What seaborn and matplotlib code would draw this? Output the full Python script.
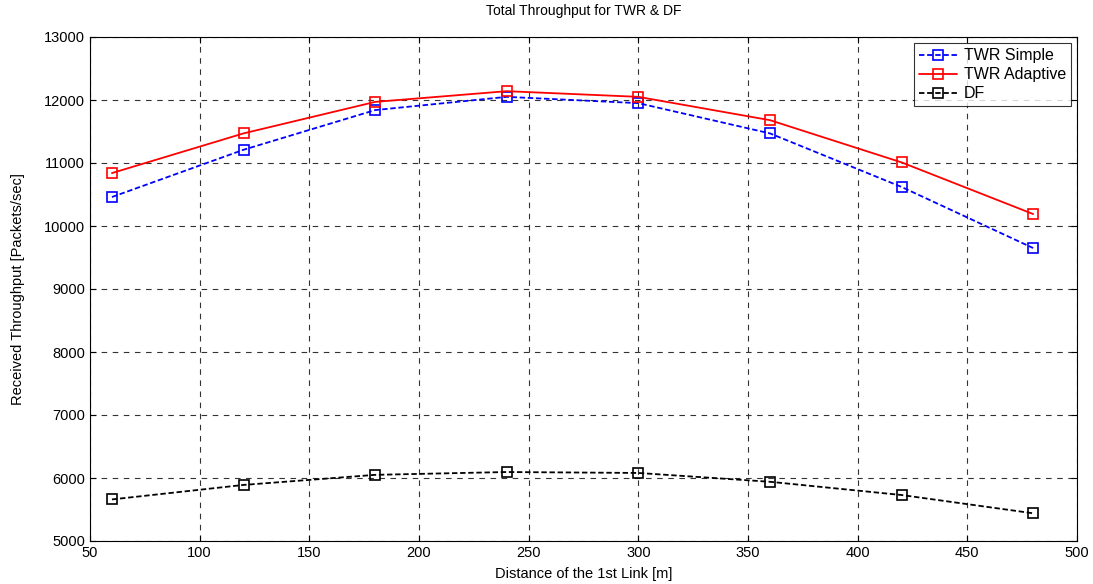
import matplotlib
matplotlib.use("Agg")
import matplotlib.pyplot as plt
import seaborn as sns
import pandas as pd

distance = [60, 120, 180, 240, 300, 360, 420, 480]
twr_simple = [10460, 11210, 11840, 12050, 11950, 11470, 10620, 9650]
twr_adaptive = [10840, 11470, 11970, 12140, 12050, 11680, 11010, 10190]
df_values = [5660, 5890, 6050, 6095, 6080, 5940, 5730, 5440]

series_names = ["TWR Simple", "TWR Adaptive", "DF"]
series_colors = ["#0000ff", "#ff0000", "#000000"]
series_dashes = [(3, 1.5), "", (3, 1.5)]

frames = []
for name, vals in zip(series_names, [twr_simple, twr_adaptive, df_values]):
    frames.append(pd.DataFrame({"Distance": distance, "Throughput": vals, "Series": name}))
data = pd.concat(frames, ignore_index=True)

sns.set_style("white")
plt.rcParams["font.family"] = ["Liberation Sans", "DejaVu Sans"]
plt.rcParams["font.size"] = 10
plt.rcParams["text.color"] = "black"
plt.rcParams["axes.labelcolor"] = "black"
plt.rcParams["xtick.color"] = "black"
plt.rcParams["ytick.color"] = "black"

fig = plt.figure(figsize=(10.93, 5.84), dpi=100)
ax = fig.add_axes([90 / 1093, 1 - 541 / 584, (1077 - 90) / 1093, (541 - 37) / 584])

sns.lineplot(
    data=data, x="Distance", y="Throughput", hue="Series", style="Series",
    hue_order=series_names, style_order=series_names,
    palette=dict(zip(series_names, series_colors)),
    dashes=dict(zip(series_names, series_dashes)),
    markers=dict(zip(series_names, ["s", "s", "s"])),
    markersize=7.5, markerfacecolor="none", markeredgewidth=1.2,
    linewidth=1.3, ax=ax,
)
for line, col in zip(ax.get_lines(), series_colors):
    line.set_markeredgecolor(col)

ax.set_xlim(50, 500)
ax.set_ylim(5000, 13000)
ax.set_xticks(range(50, 501, 50))
ax.set_yticks(range(5000, 13001, 1000))
ax.grid(True, color="#333333", linestyle=(0, (5, 5)), linewidth=0.8)
ax.tick_params(direction="in", length=4, labelsize=10.5, top=True, right=True,
               bottom=True, left=True, colors="black")
for sp in ax.spines.values():
    sp.set_color("black")
    sp.set_linewidth(0.8)

ax.set_title("Total Throughput for TWR & DF", fontsize=10, pad=16, color="black")
ax.set_xlabel("Distance of the 1st Link [m]", fontsize=10.5, labelpad=5)
ax.set_ylabel("Received Throughput [Packets/sec]", fontsize=10.5, labelpad=14)

handles, labels = ax.get_legend_handles_labels()
for h, col in zip(handles, series_colors):
    h.set_markeredgecolor(col)
    h.set_markerfacecolor("none")
leg = ax.legend(handles, labels, loc="upper right", frameon=True, fancybox=False,
                edgecolor="black", fontsize=11.5, handlelength=2.4, handletextpad=0.4,
                borderaxespad=0.4, labelspacing=0.25, borderpad=0.3)
leg.get_frame().set_linewidth(0.8)

fig.savefig("out.png", dpi=100, facecolor="white")
